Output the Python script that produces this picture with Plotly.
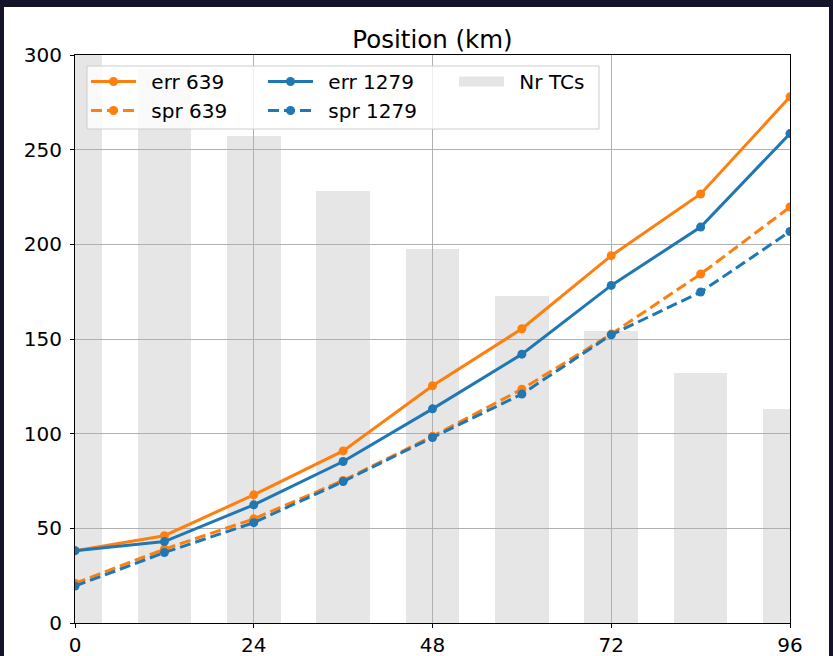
import plotly.graph_objects as go

# Forecast lead time (hours)
hours = [0, 12, 24, 36, 48, 60, 72, 84, 96]

# Position error and ensemble spread (km) for the two configurations
err_639 = [38.2, 46.1, 67.7, 90.9, 125.3, 155.4, 194.0, 226.6, 277.9]
spr_639 = [21.0, 39.0, 55.0, 75.3, 98.6, 123.5, 152.6, 184.3, 219.7]
err_1279 = [38.2, 43.0, 62.4, 85.3, 113.1, 142.0, 178.3, 209.1, 258.5]
spr_1279 = [19.5, 37.2, 53.0, 74.7, 98.0, 120.9, 152.2, 174.8, 206.8]

# Number of tropical cyclones per lead time (scaled to the km axis)
nr_tcs = [310, 292.7, 257.4, 228.3, 197.7, 172.8, 154.3, 132.1, 113.1]

x_ticks = [0, 24, 48, 72, 96]
y_ticks = [0, 50, 100, 150, 200, 250, 300]

ORANGE = "#ff7f0e"
BLUE = "#1f77b4"
BAR_GRAY = "rgba(176,176,176,0.32)"
FONT = "DejaVu Sans"
PAD = "\u00a0\u2009"  # small gap between legend symbol and label

W, H = 833, 656
L, R, T, B = 75, 43, 55, 33
PW, PH = W - L - R, H - T - B


def px_x(p):
    return (p - L) / PW


def px_y(p):
    return (H - B - p) / PH


fig = go.Figure()

fig.add_trace(go.Bar(
    x=hours, y=nr_tcs, width=7.2, name="Nr TCs",
    marker=dict(color=BAR_GRAY, line=dict(width=0)),
    showlegend=False,
))


def add_line(y, name, color, dash, legend):
    fig.add_trace(go.Scatter(
        x=hours, y=y, name=PAD + name, mode="lines+markers",
        line=dict(color=color, width=3, dash=dash),
        marker=dict(color=color, size=9),
        legend=legend,
    ))


add_line(err_639, "err 639", ORANGE, "solid", "legend")
add_line(spr_639, "spr 639", ORANGE, "11px,5px", "legend")
add_line(err_1279, "err 1279", BLUE, "solid", "legend2")
add_line(spr_1279, "spr 1279", BLUE, "11px,5px", "legend2")

# legend key for the bars: a wide gray swatch
fig.add_trace(go.Scatter(
    x=[None], y=[None], name=PAD + "Nr TCs", mode="lines",
    line=dict(color="rgb(229,229,229)", width=15),
    legend="legend3",
))

legend_common = dict(
    bgcolor="rgba(0,0,0,0)", borderwidth=0, xanchor="left", yanchor="top",
    font=dict(family=FONT, size=20, color="#000"), itemwidth=45,
    tracegroupgap=0,
)

shapes = [
    # white figure area
    dict(type="rect", xref="paper", yref="paper", layer="below",
         x0=px_x(4), x1=px_x(829), y0=px_y(660), y1=px_y(7),
         fillcolor="white", line=dict(width=0)),
    # legend frame
    dict(type="rect", xref="paper", yref="paper", layer="above",
         x0=px_x(87), x1=px_x(599), y0=px_y(129), y1=px_y(66),
         fillcolor="rgba(255,255,255,0.8)", line=dict(color="#cccccc", width=1)),
]

axis_common = dict(
    showline=True, linecolor="black", linewidth=1.2, mirror=True,
    ticks="outside", ticklen=4, tickwidth=1.2, tickcolor="black",
    showgrid=True, gridcolor="#b0b0b0", gridwidth=1.2, zeroline=False,
    tickfont=dict(family=FONT, size=20, color="#000"), automargin=False,
)

fig.update_layout(
    width=W, height=H,
    margin=dict(l=L, r=R, t=T, b=B, autoexpand=False),
    paper_bgcolor="#13132a", plot_bgcolor="white",
    showlegend=True,
    title=dict(text="Position (km)", x=0.5, xref="paper", xanchor="center",
               y=1 - 39 / H, yanchor="middle", yref="container",
               font=dict(family=FONT, size=24.5, color="#000")),
    xaxis=dict(range=[0, 96], tickvals=x_ticks, **axis_common),
    yaxis=dict(range=[0, 300], tickvals=y_ticks, ticklabelstandoff=4, **axis_common),
    legend=dict(x=px_x(86), y=px_y(62), **legend_common),
    legend2=dict(x=px_x(263), y=px_y(62), **legend_common),
    legend3=dict(x=px_x(454), y=px_y(62), **legend_common),
    shapes=shapes,
    bargap=0,
)

fig.write_html("out.html")
